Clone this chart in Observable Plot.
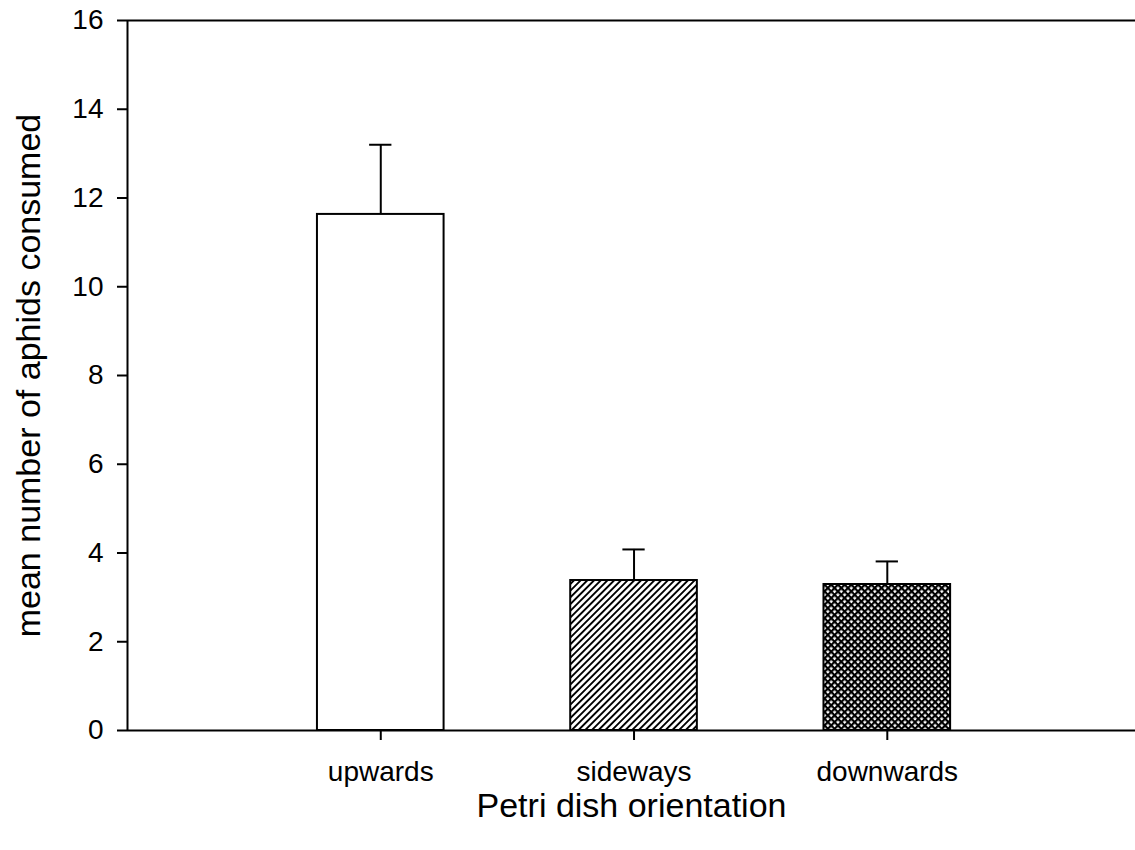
<!DOCTYPE html>
<html>
<head>
<meta charset="utf-8">
<script src="https://cdn.jsdelivr.net/npm/d3@7"></script>
<script src="https://cdn.jsdelivr.net/npm/@observablehq/plot@0.6"></script>
<style>
  html, body { margin: 0; padding: 0; background: white; }
</style>
</head>
<body>
<div id="chart"></div>
<script>
// Data
const categories = ["upwards", "sideways", "downwards"];
const means = [11.63, 3.38, 3.29];
const stdErrors = [1.57, 0.70, 0.52];
const yTicks = [0, 2, 4, 6, 8, 10, 12, 14, 16];
const yLabel = "mean number of aphids consumed";
const xLabel = "Petri dish orientation";

const data = categories.map((c, i) => ({
  cat: c,
  pos: i + 1,
  mean: means[i],
  upper: means[i] + stdErrors[i]
}));

const halfBar = 0.25;
const capHalf = 0.044;
const font = "'Liberation Sans', Arial, Helvetica, sans-serif";

const plot = Plot.plot({
  width: 1135,
  height: 850,
  marginTop: 20,
  marginBottom: 120,
  marginLeft: 127,
  marginRight: 0,
  style: { fontFamily: font, background: "white", overflow: "visible" },
  x: { domain: [0, 3.98] },
  y: { domain: [0, 16] },
  color: { domain: categories, range: ["white", "url(#hatchDiag)", "url(#hatchCross)"] },
  marks: [
    Plot.rect(data, {
      x1: d => d.pos - halfBar,
      x2: d => d.pos + halfBar,
      y1: 0,
      y2: "mean",
      fill: "cat",
      stroke: "black",
      strokeWidth: 2
    }),
    Plot.ruleX(data, { x: "pos", y1: "mean", y2: "upper", stroke: "black", strokeWidth: 2 }),
    Plot.ruleY(data, { y: "upper", x1: d => d.pos - capHalf, x2: d => d.pos + capHalf, stroke: "black", strokeWidth: 2 }),
    Plot.ruleX([0], { y1: 0, y2: 16, stroke: "black", strokeWidth: 2 }),
    Plot.ruleY([0], { stroke: "black", strokeWidth: 2 }),
    Plot.ruleY([16], { stroke: "black", strokeWidth: 2 }),
    Plot.axisY({
      ticks: yTicks,
      tickSize: 10,
      tickPadding: 14,
      fontSize: 28,
      label: null,
      stroke: "black",
      strokeWidth: 2,
      color: "black"
    }),
    Plot.axisX({
      ticks: data.map(d => d.pos),
      tickFormat: v => categories[v - 1],
      tickSize: 10,
      tickPadding: 21,
      fontSize: 28,
      label: null,
      stroke: "black",
      strokeWidth: 2,
      color: "black"
    }),
    Plot.text([yLabel], {
      frameAnchor: "left",
      textAnchor: "middle",
      lineAnchor: "middle",
      rotate: -90,
      dx: -98,
      fontSize: 34,
      fill: "black"
    }),
    Plot.text([xLabel], {
      frameAnchor: "bottom",
      textAnchor: "middle",
      lineAnchor: "middle",
      dy: 76,
      fontSize: 34,
      fill: "black"
    })
  ]
});

// Hatch patterns
const svg = d3.select(plot);
const defs = svg.insert("defs", ":first-child");
const s = 4.74;
const diag = defs.append("pattern")
  .attr("id", "hatchDiag")
  .attr("patternUnits", "userSpaceOnUse")
  .attr("width", s).attr("height", s)
  .attr("patternTransform", "rotate(45)");
diag.append("rect").attr("width", s).attr("height", s).attr("fill", "white");
diag.append("rect").attr("x", 0).attr("y", 0).attr("width", 1.9).attr("height", s).attr("fill", "black");

const cross = defs.append("pattern")
  .attr("id", "hatchCross")
  .attr("patternUnits", "userSpaceOnUse")
  .attr("width", s).attr("height", s)
  .attr("patternTransform", "rotate(45)");
cross.append("rect").attr("width", s).attr("height", s).attr("fill", "white");
cross.append("rect").attr("x", 0).attr("y", 0).attr("width", 2.2).attr("height", s).attr("fill", "black");
cross.append("rect").attr("x", 0).attr("y", 0).attr("width", s).attr("height", 2.2).attr("fill", "black");

document.getElementById("chart").appendChild(plot);
</script>
</body>
</html>
